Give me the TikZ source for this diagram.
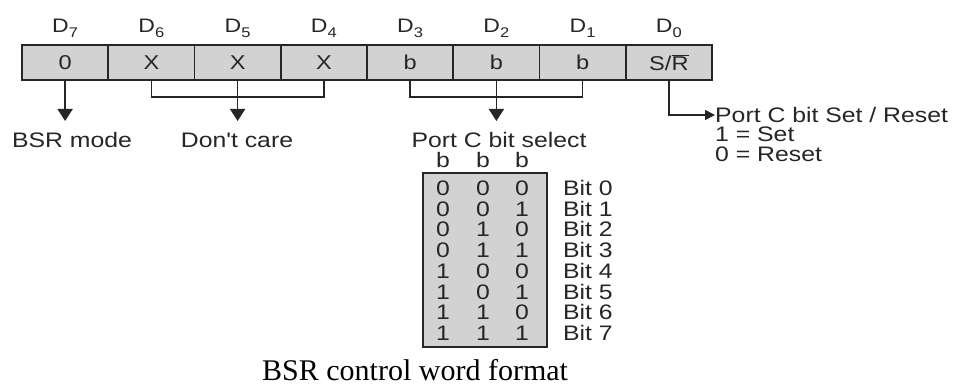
\documentclass[tikz,border=0pt]{standalone}
\usepackage{fontspec}
\usetikzlibrary{arrows.meta}
\newfontfamily\lblfont[FakeStretch=1.18]{Liberation Sans}
\newfontfamily\capfont{Liberation Serif}
\definecolor{ink}{RGB}{38,38,38}
\definecolor{cellfill}{RGB}{210,210,210}
\begin{document}
\begin{tikzpicture}[x=1pt,y=-1pt,
  lbl/.style={font=\lblfont\fontsize{21}{21}\selectfont,text=ink,inner sep=0pt},
  noteline/.style={lbl,anchor=base west,text height=14pt,text depth=0pt},
  dlbl/.style={font=\lblfont\fontsize{19.5}{19.5}\selectfont,text=ink,inner sep=0pt,anchor=base},
  cell/.style={draw=ink,line width=1.7pt,fill=cellfill,minimum width=86.25pt,minimum height=35pt,
    inner sep=0pt,font=\lblfont\fontsize{20}{20}\selectfont,text=ink},
  link/.style={draw=ink,line width=1.6pt},
  arr/.style={link,-{Triangle[width=15pt,length=12pt]}},
  sarr/.style={link,-{Triangle[width=10pt,length=10pt]}}]
\useasboundingbox (0,0) rectangle (955,385);
\fill[white] (0,0) rectangle (955,385);

% control register cells D7 ... D0
\foreach \i/\t [count=\k from 0] in {7/0,6/X,5/X,4/X,3/b,2/b,1/b,0/{S/$\overline{\hbox{R}}$}}{
  \node[cell] (c\i) at ({22+86.25*(\k+0.5)},62.5) {\t};
  \node[dlbl] (d\i) at ({22+86.25*(\k+0.5)},33) {D\raisebox{-5pt}{\fontsize{14}{14}\selectfont\i}};
}

% field labels
\node[lbl,anchor=base] (bsr) at (72,147) {BSR mode};
\node[lbl,anchor=base] (dc) at (237,147) {Don't care};
\node[lbl,anchor=base] (sel) at (499,147) {Port C bit select};
\node[noteline] (sr) at (715,122) {Port C bit Set / Reset};
\node[noteline] (set) at (715,142) {1 = Set};
\node[noteline] (rst) at (715,161) {0 = Reset};

% brackets grouping the don't-care and bit-select fields
\draw[link] (c6.south) -- ++(0,16) -| (c4.south);
\draw[link] (c3.south) -- ++(0,16) -| (c1.south);

% field arrows
\draw[arr] (c7.south) -- (c7.south |- 0,121);
\draw[arr] (c5.south) -- (c5.south |- 0,121);
\draw[arr] (c2.south) -- (c2.south |- 0,121);
\coordinate (bend) at (c0.south |- 0,115);
\draw[sarr] (c0.south) -- (bend) -- (sr.west |- bend);

% bit select decoding table
\node[draw=ink,line width=1.7pt,fill=cellfill,minimum width=124pt,minimum height=174pt,inner sep=0pt]
  (tbl) at (485,260) {};
\foreach \x/\n in {443/a,483/b,522/c}
  \node[lbl,anchor=base] (h\n) at (\x,167) {b};
\foreach \a/\b/\c [count=\r from 0] in {0/0/0,0/0/1,0/1/0,0/1/1,1/0/0,1/0/1,1/1/0,1/1/1}{
  \node[lbl,anchor=base] (ra\r) at (443,{195.5+20.7*\r}) {\a};
  \node[lbl,anchor=base] (rb\r) at (483,{195.5+20.7*\r}) {\b};
  \node[lbl,anchor=base] (rc\r) at (522,{195.5+20.7*\r}) {\c};
  \node[lbl,anchor=base west] (bit\r) at (563,{195.5+20.7*\r}) {Bit \r};
}

% caption
\node[font=\capfont\fontsize{30}{30}\selectfont,anchor=base west,inner sep=0pt,text=black]
  (cap) at (262,380) {BSR control word format};
\end{tikzpicture}
\end{document}
